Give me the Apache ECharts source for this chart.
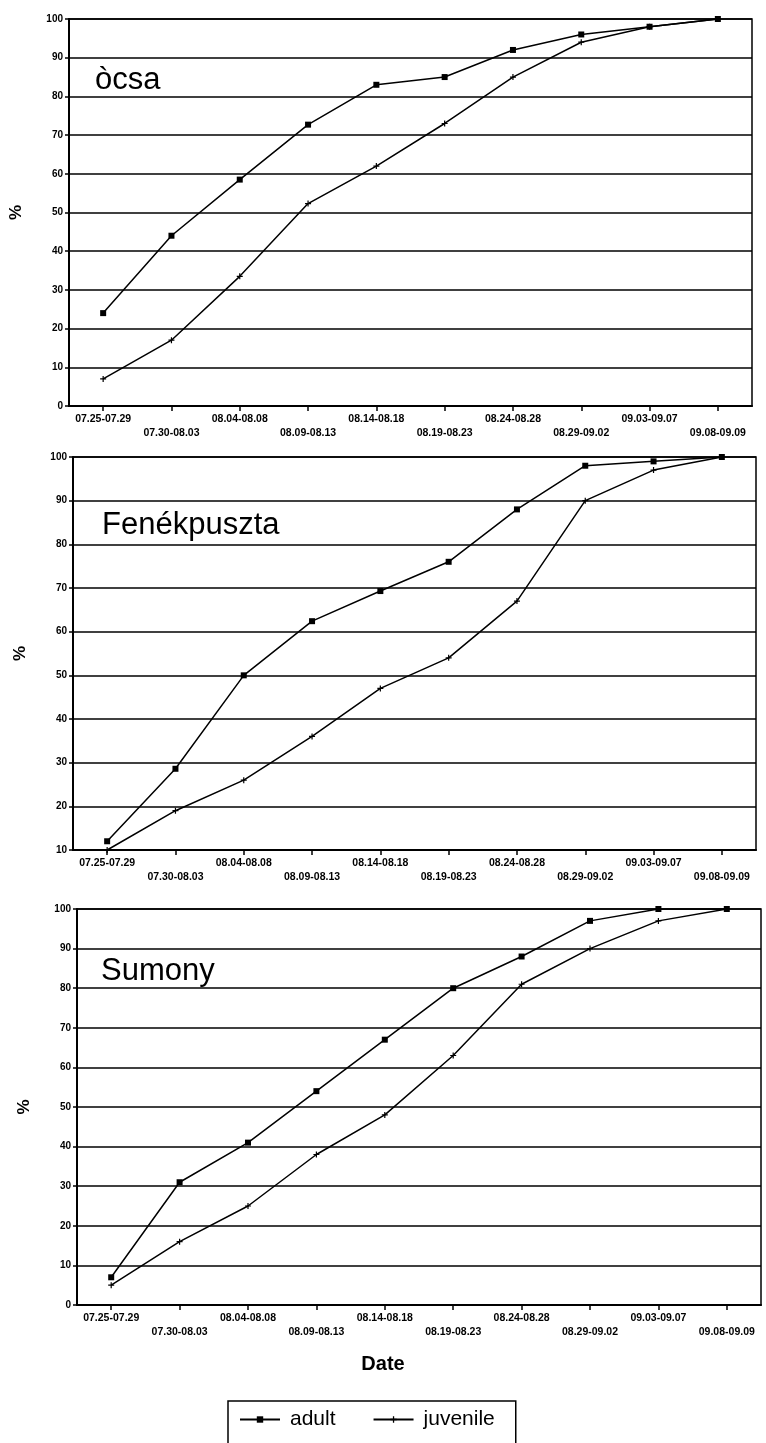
<!DOCTYPE html>
<html>
<head>
<meta charset="utf-8">
<script src="https://cdn.jsdelivr.net/npm/echarts@6/dist/echarts.min.js"></script>
<style>html,body{margin:0;padding:0;background:#fff;}#c{width:766px;height:1443px;}</style>
</head>
<body>
<div id="c"></div>
<script>
const categories = ['07.25-07.29','07.30-08.03','08.04-08.08','08.09-08.13','08.14-08.18','08.19-08.23','08.24-08.28','08.29-09.02','09.03-09.07','09.08-09.09'];
const siteNames = ['òcsa','Fenékpuszta','Sumony'];
const ocsaAdult = [24,44,58.5,72.7,83,85,92,96,98,100];
const ocsaJuvenile = [7,17,33.5,52.3,62,73,85,94,98,100];
const fenekAdult = [12,28.6,50,62.4,69.3,76,88,98,99,100];
const fenekJuvenile = [10,19,26,36,47,54,67,90,97,100];
const sumonyAdult = [7,31,41,54,67,80,88,97,100,100];
const sumonyJuvenile = [5,16,25,38,48,63,81,90,97,100];
const yMins = [0,10,0];
const seriesNames = ['adult','juvenile'];

const FONT = 'Liberation Sans, Arial, Helvetica, sans-serif';
const grids = [
  {left:68, top:19, width:684, height:387},
  {left:73, top:457, width:683, height:393},
  {left:77, top:909, width:684, height:396}
];
const dataSets = [[ocsaAdult,ocsaJuvenile],[fenekAdult,fenekJuvenile],[sumonyAdult,sumonyJuvenile]];
const plusPath = 'path://M4,0H6V4H10V6H6V10H4V6H0V4H4Z';

const option = {
  backgroundColor:'#fff',
  animation:false,
  textStyle:{fontFamily:FONT, color:'#000'},
  grid: grids.map(g => Object.assign({show:true, borderColor:'#000', borderWidth:1.5, backgroundColor:'transparent'}, g)),
  xAxis: grids.map((g,i) => ({
    type:'category', gridIndex:i, data:categories, boundaryGap:true,
    axisLine:{show:true, lineStyle:{color:'#000', width:2}},
    axisTick:{show:true, alignWithLabel:true, length:5, lineStyle:{color:'#000', width:1.5}},
    axisLabel:{interval:0, margin:6, fontSize:10.5, fontWeight:'bold', color:'#000', fontFamily:FONT, lineHeight:14,
      formatter:(v, idx) => (idx % 2 ? '\n' + v : v)},
    splitLine:{show:false}
  })),
  yAxis: grids.map((g,i) => ({
    type:'value', gridIndex:i, min:yMins[i], max:100, interval:10,
    name:'%', nameLocation:'middle', nameRotate:90, nameGap:44,
    nameTextStyle:{fontSize:17, fontWeight:'bold', color:'#000', fontFamily:FONT},
    axisLine:{show:true, lineStyle:{color:'#000', width:2}},
    axisTick:{show:true, length:4, lineStyle:{color:'#000', width:1.5}},
    axisLabel:{margin:6, fontSize:10, fontWeight:'bold', color:'#000', fontFamily:FONT},
    splitLine:{show:true, lineStyle:{color:'#000', width:1.6}}
  })),
  title: [
    {text:siteNames[0], left:90, top:60, textStyle:{fontSize:31, fontWeight:'normal', color:'#000', fontFamily:FONT}},
    {text:siteNames[1], left:97, top:505, textStyle:{fontSize:31, fontWeight:'normal', color:'#000', fontFamily:FONT}},
    {text:siteNames[2], left:96, top:951, textStyle:{fontSize:31, fontWeight:'normal', color:'#000', fontFamily:FONT}},
    {text:'Date', left:'center', top:1349, textStyle:{fontSize:20, fontWeight:'bold', color:'#000', fontFamily:FONT}}
  ],
  legend: {
    data: seriesNames,
    left:228, top:1401, orient:'horizontal',
    padding:[8, 21, 40, 11],
    itemGap:37, itemWidth:40, itemHeight:8,
    borderColor:'#000', borderWidth:1.5,
    textStyle:{fontSize:21, color:'#000', fontFamily:FONT, padding:[0,0,0,5]}
  },
  series: []
};

dataSets.forEach((pair, gi) => {
  option.series.push({
    name:seriesNames[0], type:'line', xAxisIndex:gi, yAxisIndex:gi, data:pair[0],
    symbol:'rect', symbolSize:6, showSymbol:true,
    lineStyle:{color:'#000', width:1.5}, itemStyle:{color:'#000'}
  });
  option.series.push({
    name:seriesNames[1], type:'line', xAxisIndex:gi, yAxisIndex:gi, data:pair[1],
    symbol:plusPath, symbolSize:6, showSymbol:true,
    lineStyle:{color:'#000', width:1.5}, itemStyle:{color:'#000'}
  });
});

const chart = echarts.init(document.getElementById('c'), null, {renderer:'canvas'});
chart.setOption(option);
</script>
</body>
</html>
